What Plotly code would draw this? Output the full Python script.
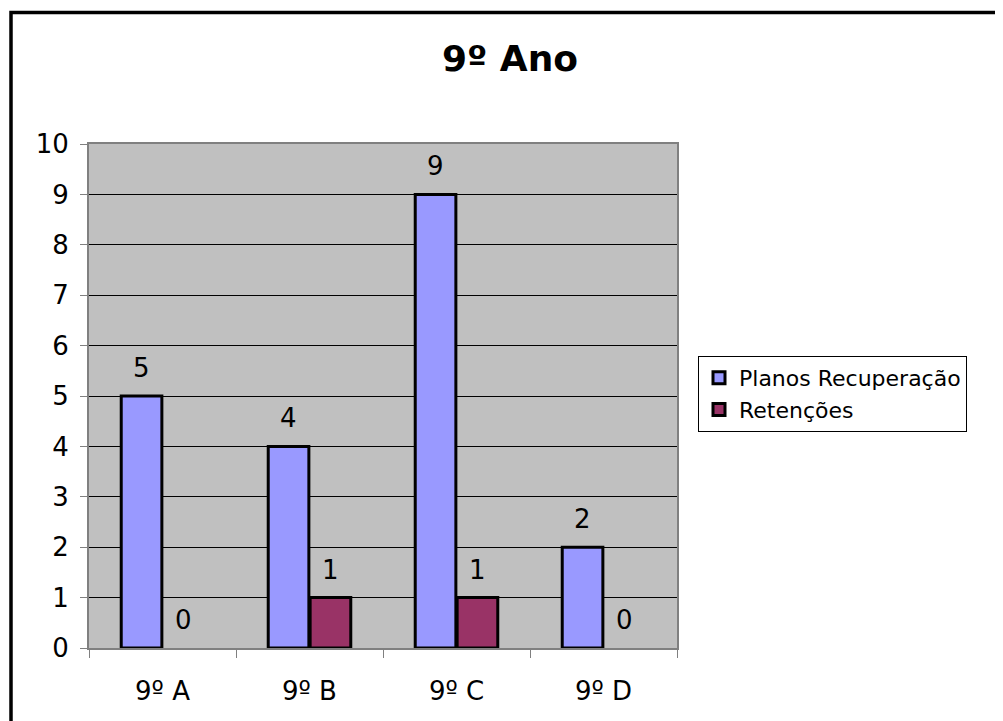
import plotly.graph_objects as go

categories = ["9º A", "9º B", "9º C", "9º D"]
planos = [5, 4, 9, 2]
retencoes = [0, 1, 1, 0]
series_names = ["Planos Recuperação", "Retenções"]
series_colors = ["#9999FF", "#993366"]
title_text = "9º Ano"
y_ticks = list(range(0, 11))

OFF = 8  # default page body margin
W, H = 1003 - OFF, 721 - OFF
L, T = 89 - OFF, 144 - OFF
R = W - (677 - OFF)
B = H - (648 - OFF)
PW, PH = W - L - R, H - T - B
FONT = "DejaVu Sans"
BARGAP = 0.43
GROUPGAP = 0.03

fig = go.Figure()
for i, (name, vals, col) in enumerate(zip(series_names, [planos, retencoes], series_colors)):
    fig.add_trace(go.Bar(
        x=categories, y=vals, name=name, legendgroup=f"g{i}", showlegend=False,
        marker=dict(color=col, line=dict(color="black",
                                         width=[3 if v > 0 else 0 for v in vals])),
    ))
# legend entries (styled like the bars, with outline)
for i, (name, col) in enumerate(zip(series_names, series_colors)):
    fig.add_trace(go.Bar(
        x=[categories[0]], y=[None], name=name, legendgroup=f"g{i}", showlegend=True,
        marker=dict(color=col, line=dict(color="black", width=3)),
        offsetgroup=f"g{i}",
    ))
for i in range(2):
    fig.data[i].offsetgroup = f"g{i}"

# data labels, positioned at grouped-bar centres
n_series = 2
slot = (1 - BARGAP) / n_series
annotations = []
for si, vals in enumerate([planos, retencoes]):
    off = -(1 - BARGAP) / 2 + slot * (si + 0.5)
    for ci, v in enumerate(vals):
        annotations.append(dict(
            x=ci + off, y=v, xref="x", yref="y", text=str(v), showarrow=False,
            yanchor="bottom", yshift=11, font=dict(family=FONT, size=26, color="black"),
        ))

def px_x(px):
    return (px - OFF - L) / PW

def px_y(py):
    return (H - B - (py - OFF)) / PH

fig.update_layout(
    width=W, height=H,
    margin=dict(l=L, r=R, t=T, b=B, autoexpand=False),
    paper_bgcolor="white", plot_bgcolor="#C0C0C0",
    barmode="group", bargap=BARGAP, bargroupgap=GROUPGAP,
    font=dict(family=FONT, color="black"),
    title=dict(text="<b>" + title_text + "</b>", x=(510 - OFF) / W, xanchor="center",
               y=1 - (58 - OFF) / H, yanchor="middle", yref="container",
               font=dict(family=FONT, size=36, color="black")),
    xaxis=dict(
        type="category", tickson="boundaries", ticks="outside", ticklen=8,
        tickcolor="#808080", tickwidth=1,
        showline=True, linecolor="#808080", linewidth=2, mirror=True,
        showgrid=False, tickfont=dict(family=FONT, size=26, color="black"),
        ticklabelstandoff=19,
    ),
    yaxis=dict(
        range=[0, 10], tickvals=y_ticks, ticks="outside", ticklen=7,
        tickcolor="#808080", tickwidth=1,
        showline=True, linecolor="#808080", linewidth=2, mirror=True,
        showgrid=True, gridcolor="black", gridwidth=1, zeroline=False,
        tickfont=dict(family=FONT, size=26, color="black"),
        ticklabelstandoff=6,
    ),
    legend=dict(
        x=px_x(698), y=px_y(356), xanchor="left", yanchor="top",
        bordercolor="black", borderwidth=1, bgcolor="white",
        font=dict(family=FONT, size=22, color="black"),
        entrywidth=330, itemwidth=30, tracegroupgap=0, traceorder="normal",
    ),
    annotations=annotations,
    shapes=[dict(
        type="rect", xref="paper", yref="paper",
        x0=px_x(11), x1=px_x(1030),
        y0=px_y(760), y1=px_y(12.5),
        line=dict(color="black", width=3.5), fillcolor="rgba(0,0,0,0)", layer="below",
    )],
)

fig.write_html("out.html")
